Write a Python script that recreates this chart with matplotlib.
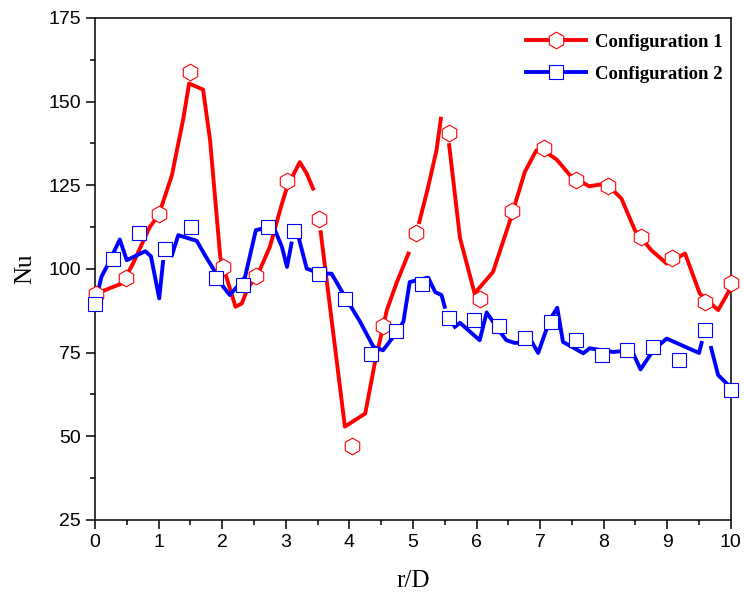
import numpy as np
import matplotlib
matplotlib.use("Agg")
import matplotlib.pyplot as plt
from matplotlib.lines import Line2D
from matplotlib.ticker import MultipleLocator

nan = np.nan

c1_line_x = [0.03, 0.24, 0.43, 0.60, 0.86, 1.00, 1.21, 1.31, 1.39, 1.48, 1.70, 1.81, 1.97,
             2.21, 2.31, 2.39, 2.59, 2.75, 2.94, 3.02, 3.22, 3.33, 3.43, nan, 3.55, 3.93,
             4.25, 4.40, 4.59, 4.74, 4.93, nan, 5.10, 5.24, 5.37, 5.44, nan, 5.57, 5.74,
             5.97, 6.26, 6.53, 6.76, 6.94, 7.06, 7.26, 7.47, 7.77, 8.04, 8.28, 8.49, 8.75,
             8.99, 9.28, 9.51, 9.80, 9.98]
c1_line_y = [92.7, 94.3, 95.7, 101.7, 112.5, 116.0, 128.0, 137.5, 145.0, 155.4, 153.6, 138.4, 103.6,
             88.7, 89.7, 93.7, 99.6, 106.6, 119.5, 124.4, 131.9, 128.5, 124.0, nan, 111.0, 52.9,
             56.8, 71.8, 87.7, 95.7, 104.6, nan, 114.0, 124.5, 135.4, 144.9, nan, 137.0, 109.3,
             92.7, 99.1, 114.6, 129.0, 135.4, 135.3, 132.7, 128.0, 124.7, 125.5, 121.0, 111.6, 105.6,
             101.6, 104.6, 92.7, 87.7, 93.7]
c1_mark_x = [0.02, 0.49, 1.00, 1.49, 2.02, 2.53, 3.02, 3.52, 4.04, 4.53, 5.05, 5.56, 6.05,
             6.56, 7.06, 7.57, 8.07, 8.58, 9.08, 9.59, 10.0]
c1_mark_y = [92.5, 97.2, 116.3, 158.8, 100.6, 97.8, 126.2, 114.8, 47.1, 83.0, 110.6, 140.6, 91.0,
             117.2, 136.0, 126.7, 124.8, 109.4, 103.4, 90.2, 95.7]

# Configuration 2 (blue)
c2_line_x = [0.03, 0.10, 0.21, 0.39, 0.50, 0.79, 0.88, 1.01, 1.07, nan, 1.21, 1.31, 1.60, 1.73,
             1.89, 2.02, 2.12, 2.23, 2.36, 2.53, 2.65, 2.83, 2.94, 3.02, 3.09, nan, 3.20, 3.33,
             3.54, 3.72, 3.90, 4.17, 4.38, 4.53, 4.69, 4.85, 4.95, 5.24, 5.35, 5.45, 5.50, nan,
             5.66, 5.74, 6.05, 6.16, 6.37, 6.47, 6.60, 6.87, 6.97, 7.15, 7.27, 7.36, 7.68, 7.78,
             8.15, 8.44, 8.58, 8.78, 8.99, 9.50, 9.54, nan, 9.69, 9.80, 9.96]
c2_line_y = [91.7, 97.6, 101.6, 108.8, 102.6, 105.3, 103.8, 91.2, 102.1, nan, 104.1, 110.1, 108.4, 104.1,
             99.1, 94.6, 92.2, 94.6, 97.6, 111.6, 112.1, 111.6, 106.6, 100.6, 107.6, nan, 109.6, 100.1,
             98.6, 98.6, 92.7, 84.2, 76.7, 75.7, 79.7, 84.2, 96.1, 97.4, 93.1, 92.2, 88.7, nan,
             82.7, 83.9, 78.7, 87.0, 81.2, 78.7, 77.9, 78.2, 74.9, 84.7, 88.4, 78.2, 74.8, 76.3,
             75.2, 75.7, 70.0, 75.7, 79.2, 74.9, 77.9, nan, 76.4, 68.3, 65.3]
c2_mark_x = [0.00, 0.29, 0.70, 1.10, 1.51, 1.90, 2.32, 2.72, 3.13, 3.53, 3.93, 4.34, 4.74,
             5.15, 5.56, 5.96, 6.35, 6.76, 7.17, 7.57, 7.98, 8.37, 8.78, 9.18, 9.59, 10.0]
c2_mark_y = [89.5, 103.1, 110.6, 105.9, 112.4, 97.3, 95.1, 112.6, 111.3, 98.6, 91.0, 74.6, 81.5,
             95.4, 85.2, 84.7, 83.0, 79.5, 84.2, 78.7, 74.3, 75.7, 76.6, 72.8, 81.7, 63.8]

RED = "#ff0000"
BLUE = "#0000ff"
SANS = "Liberation Sans"
SERIF = "Liberation Serif"
LW = 2.8

fig = plt.figure(figsize=(7.45, 5.97), dpi=100)
ax = fig.add_axes([0.1275, 0.129, 0.8535, 0.841])

ax.plot(c1_line_x, c1_line_y, color=RED, lw=LW, zorder=2)
ax.plot(c2_line_x, c2_line_y, color=BLUE, lw=LW, zorder=2)
ax.plot(c1_mark_x, c1_mark_y, ls="none", marker="h", ms=12, mfc="white", mec=RED,
        mew=0.8, zorder=3, clip_on=False)
ax.plot(c2_mark_x, c2_mark_y, ls="none", marker="s", ms=10, mfc="white", mec=BLUE,
        mew=0.8, zorder=3, clip_on=False)

ax.set_xlim(0, 10)
ax.set_ylim(25, 175)
ax.xaxis.set_major_locator(MultipleLocator(1))
ax.xaxis.set_minor_locator(MultipleLocator(0.5))
ax.yaxis.set_major_locator(MultipleLocator(25))
ax.yaxis.set_minor_locator(MultipleLocator(12.5))
ax.tick_params(which="both", direction="out", width=1.1, top=False, right=False)
ax.tick_params(which="major", length=6.5, labelsize=14)
ax.tick_params(which="minor", length=3.5)
for lab in ax.get_xticklabels() + ax.get_yticklabels():
    lab.set_fontfamily(SANS)
for sp in ax.spines.values():
    sp.set_linewidth(1.1)

ax.set_xlabel("r/D", fontfamily=SERIF, fontsize=18, labelpad=14)
ax.set_ylabel("Nu", fontfamily=SERIF, fontsize=18, labelpad=9)

handles = [
    Line2D([], [], color=RED, lw=LW, marker="h", ms=12, mfc="white", mec=RED, mew=0.8),
    Line2D([], [], color=BLUE, lw=LW, marker="s", ms=10, mfc="white", mec=BLUE, mew=0.8),
]
ax.legend(handles, ["Configuration 1", "Configuration 2"], loc="upper right",
          bbox_to_anchor=(1.0, 0.985), frameon=False, handlelength=3.2, handletextpad=0.45,
          borderaxespad=0.0, borderpad=0.45, labelspacing=0.78,
          prop={"family": SERIF, "weight": "bold", "size": 13.5})

fig.savefig("out.png", dpi=100)
